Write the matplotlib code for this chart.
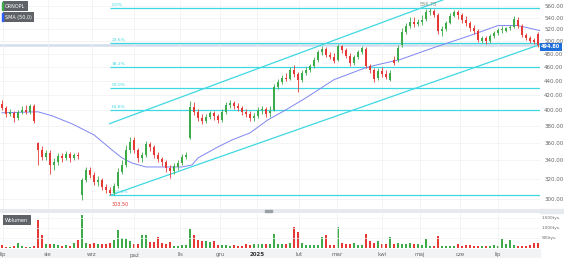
import numpy as np
import matplotlib
matplotlib.use("Agg")
import matplotlib.pyplot as plt
from matplotlib.patches import Rectangle
from matplotlib.ticker import FixedLocator, NullLocator

# two-session candles, July 2024 - July 2025
opens = [408.5, 403.2, 395.4, 396.7, 390.3, 398.0, 400.6, 398.0, 405.8, 359.8,
         351.7, 343.8, 348.3, 335.0, 338.2, 344.9, 342.7, 347.2, 342.7, 346.0,
         303.8, 319.0, 329.5, 324.2, 316.9, 319.0, 311.9, 308.8, 305.8, 312.9,
         327.4, 335.0, 351.7, 363.3, 351.7, 342.7, 346.0, 358.6, 355.2, 346.0,
         341.5, 338.2, 331.7, 328.4, 332.8, 337.1, 343.8, 365.7, 404.5, 398.0,
         390.3, 386.5, 391.6, 396.7, 392.9, 387.8, 398.0, 407.2, 409.8, 405.8,
         403.2, 398.0, 395.4, 390.3, 392.9, 400.6, 401.9, 396.7, 400.6, 431.8,
         438.9, 444.6, 443.1, 456.3, 450.4, 441.7, 451.9, 456.3, 462.3, 471.4,
         483.9, 488.6, 479.1, 476.1, 471.4, 493.3, 487.0, 477.6, 466.9, 476.1,
         483.9, 488.6, 462.3, 456.3, 444.6, 454.8, 450.4, 441.7, 471.4, 471.4,
         494.9, 516.3, 526.4, 533.3, 529.8, 533.3, 538.6, 549.2, 551.0, 543.9,
         517.9, 521.3, 531.6, 542.2, 549.2, 543.9, 536.8, 531.6, 523.0, 517.9,
         501.4, 506.3, 501.4, 509.6, 514.6, 519.6, 517.9, 523.0, 524.7, 536.8,
         526.4, 511.3, 506.3, 503.0, 512.9]
highs = [413.8, 405.8, 401.9, 399.3, 400.6, 405.8, 407.2, 408.5, 408.5, 361.0,
         356.3, 351.7, 351.7, 342.7, 348.3, 348.3, 350.6, 349.4, 348.3, 349.4,
         321.1, 332.8, 332.8, 327.4, 323.2, 321.1, 314.9, 311.9, 315.9, 331.7,
         340.4, 357.5, 366.9, 366.9, 354.0, 349.4, 362.1, 361.0, 357.5, 349.4,
         343.8, 340.4, 335.0, 337.1, 340.4, 347.2, 349.4, 412.5, 411.1, 401.9,
         395.4, 395.4, 399.3, 399.3, 395.4, 401.9, 411.1, 413.8, 412.5, 409.8,
         405.8, 401.9, 399.3, 396.7, 404.5, 405.8, 404.5, 405.8, 436.0, 443.1,
         448.9, 451.9, 460.8, 463.8, 453.3, 456.3, 460.8, 465.3, 476.1, 487.0,
         493.3, 491.7, 483.9, 482.3, 496.5, 494.9, 490.2, 482.3, 479.1, 487.0,
         493.3, 491.7, 465.3, 459.3, 459.3, 460.8, 456.3, 456.3, 477.6, 494.9,
         523.0, 531.6, 540.4, 540.4, 538.6, 543.9, 554.6, 556.78, 554.6, 547.5,
         526.4, 535.1, 547.5, 552.8, 552.8, 547.5, 542.2, 535.1, 528.1, 521.3,
         509.6, 509.6, 512.9, 517.9, 523.0, 526.4, 524.7, 528.1, 542.2, 540.4,
         529.8, 514.6, 509.6, 506.3, 516.3]
lows = [400.6, 391.6, 392.9, 385.3, 387.8, 395.4, 395.4, 395.4, 384.0, 335.0,
        340.4, 340.4, 325.3, 329.5, 335.0, 338.2, 340.4, 338.2, 340.4, 341.5,
        299.0, 316.9, 321.1, 313.9, 312.9, 308.8, 305.8, 303.5, 303.8, 310.9,
        325.3, 332.8, 348.3, 348.3, 338.2, 338.2, 343.8, 350.6, 342.7, 338.2,
        333.9, 327.4, 321.1, 325.3, 329.5, 335.0, 341.5, 364.5, 394.1, 386.5,
        382.8, 384.0, 389.0, 387.8, 384.0, 385.3, 395.4, 403.2, 401.9, 399.3,
        394.1, 391.6, 386.5, 386.5, 390.3, 395.4, 391.6, 391.6, 399.3, 429.0,
        436.0, 440.3, 441.7, 446.0, 424.7, 438.9, 448.9, 453.3, 459.3, 468.4,
        479.1, 476.1, 473.0, 466.9, 469.9, 482.3, 474.5, 462.3, 463.8, 473.0,
        480.7, 459.3, 451.9, 438.9, 441.7, 446.0, 443.1, 440.3, 463.8, 468.4,
        491.7, 512.9, 523.0, 524.7, 526.4, 528.1, 535.1, 543.9, 540.4, 512.9,
        509.6, 517.9, 529.8, 540.4, 538.6, 531.6, 526.4, 517.9, 512.9, 499.8,
        498.1, 496.5, 498.1, 506.3, 511.3, 514.6, 516.3, 519.6, 523.0, 523.0,
        508.0, 503.0, 498.1, 496.5, 491.7]
closes = [403.2, 395.4, 398.0, 390.3, 398.0, 400.6, 398.0, 405.8, 386.5, 351.7,
          343.8, 348.3, 335.0, 338.2, 344.9, 342.7, 347.2, 342.7, 346.0, 344.9,
          319.0, 329.5, 324.2, 316.9, 319.0, 311.9, 308.8, 305.8, 312.9, 327.4,
          335.0, 351.7, 361.0, 351.7, 342.7, 346.0, 358.6, 355.2, 346.0, 341.5,
          338.2, 331.7, 328.4, 333.9, 337.1, 343.8, 346.0, 404.5, 398.0, 390.3,
          386.5, 391.6, 396.7, 392.9, 387.8, 398.0, 407.2, 409.8, 405.8, 403.2,
          398.0, 395.4, 390.3, 392.9, 400.6, 401.9, 395.4, 399.3, 431.8, 438.9,
          444.6, 443.1, 456.3, 450.4, 441.7, 451.9, 456.3, 462.3, 471.4, 483.9,
          488.6, 479.1, 476.1, 469.9, 493.3, 487.0, 477.6, 466.9, 476.1, 483.9,
          490.2, 462.3, 456.3, 443.1, 454.8, 450.4, 446.0, 451.9, 466.9, 490.2,
          516.3, 526.4, 533.3, 529.8, 533.3, 536.8, 549.2, 551.0, 543.9, 517.9,
          521.3, 531.6, 542.2, 549.2, 543.9, 536.8, 531.6, 523.0, 517.9, 503.0,
          506.3, 501.4, 509.6, 514.6, 519.6, 521.3, 523.0, 524.7, 538.6, 526.4,
          511.3, 506.3, 501.4, 499.8, 494.8]
volumes = [130, 60, 50, 80, 250, 80, 60, 70, 90, 1400,
           630, 200, 180, 220, 150, 120, 130, 100, 250, 400,
           1670, 250, 200, 250, 220, 200, 180, 250, 400, 900,
           500, 450, 350, 220, 200, 650, 650, 300, 280, 550,
           250, 200, 280, 120, 120, 150, 170, 970, 670, 400,
           350, 330, 300, 350, 150, 130, 130, 120, 130, 120,
           120, 200, 150, 180, 200, 180, 200, 200, 720, 220,
           200, 180, 250, 1050, 800, 250, 150, 130, 150, 170,
           550, 630, 170, 150, 1050, 250, 180, 200, 250, 130,
           150, 720, 350, 250, 330, 200, 200, 550, 200, 250,
           220, 200, 250, 200, 220, 170, 470, 120, 100, 580,
           120, 100, 80, 100, 200, 120, 170, 150, 80, 100,
           80, 100, 80, 150, 100, 430, 200, 420, 150, 100,
           120, 80, 130, 250, 250]

# SMA(50) at a few candle positions
sma_idx = [0, 9, 12.5, 17.5, 23, 27.5, 30, 32.5, 36, 45, 47.5, 49, 54, 57.5, 62,
           66.5, 71, 76, 83, 91, 94, 99.5, 108, 117, 124, 129, 134.5]
sma_val = [396.7, 398.0, 392.9, 382.8, 369.3, 351.7, 342.7, 337.1, 332.8, 332.8,
           335.0, 342.7, 355.2, 363.3, 371.7, 387.8, 400.6, 416.5, 441.7, 459.3,
           463.8, 471.4, 490.2, 509.6, 526.4, 526.4, 517.9]

fib_low, fib_high = 303.5, 556.78
fib_levels = [0.0, 0.236, 0.382, 0.5, 0.618, 1.0]
fib_start = 27
channel_low = ([27, 134.5], [303.5, 495.0])
channel_high = ([26.9, 112], [383.0, 577.0])
last_price = 494.80

month_pos = [0.25, 11.5, 22.5, 33, 44.5, 54.5, 63.75, 74.25, 83.75, 95, 104.5, 114.5, 124]
month_lbl = ["lip", "sie", "wrz", "paź", "lis", "gru", "2025", "lut", "mar", "kwi", "maj", "cze", "lip"]
price_ticks = list(range(300, 561, 20))
vol_ticks = [500, 1000, 1500]
vol_lbl = ["500tys.", "1.000tys.", "1.500tys."]

GREEN, RED = "#3dab4a", "#e53935"
CYAN = "#3fd8e2"
W, H = 564, 258


def frect(x0, y0, x1, y1):
    return [x0 / W, 1 - y1 / H, (x1 - x0) / W, (y1 - y0) / H]


def main():
    o, h, l, c = map(np.array, (opens, highs, lows, closes))
    idx = np.arange(len(c))
    cols = [GREEN if cc >= oo else RED for oo, cc in zip(o, c)]

    fig = plt.figure(figsize=(W / 100, H / 100), dpi=100)
    fig.patch.set_facecolor("white")
    fig.add_artist(Rectangle((0, 1 - 213 / H), 1, 4 / H, transform=fig.transFigure,
                             color="#e6eaef", zorder=0))
    fig.add_artist(Rectangle((0, 0), 540 / W, 9 / H, transform=fig.transFigure,
                             color="#f1f3f5", zorder=0))
    fig.add_artist(Rectangle((265 / W, 1 - 211.5 / H), 7 / W, 1.2 / H,
                             transform=fig.transFigure, color="#9aa0a6", zorder=5))

    ax = fig.add_axes(frect(0, 0, 540, 209))
    axv = fig.add_axes(frect(0, 213, 540, 248), sharex=ax)

    # price panel
    ax.set_yscale("log")
    ax.set_ylim(290.4, 571.9)
    ax.set_xlim(-0.5, 134.5)
    ax.yaxis.set_major_locator(FixedLocator(price_ticks))
    ax.yaxis.set_minor_locator(NullLocator())
    ax.set_yticklabels([f"{t:.2f}" for t in price_ticks])
    ax.yaxis.tick_right()
    ax.tick_params(axis="y", length=0, pad=3, labelsize=4, labelcolor="#666666")
    ax.xaxis.set_major_locator(FixedLocator(month_pos))
    ax.tick_params(axis="x", length=0, labelbottom=False)
    ax.grid(True, color="#f0f0f0", lw=0.5)
    for s in ax.spines.values():
        s.set_visible(False)

    ax.axhline(last_price, color="#d3deec", lw=1.8, zorder=1)

    rng = fib_high - fib_low
    for lv in fib_levels:
        p = fib_high - lv * rng
        ax.hlines(p, fib_start, 134.5, color=CYAN, lw=0.9, zorder=2)
        ax.text(fib_start + 0.5, p * 1.004, f"{lv * 100:.1f}%", fontsize=3.2,
                color=CYAN, va="bottom", ha="left", zorder=2)
    ax.plot(*channel_low, color=CYAN, lw=0.9, zorder=2)
    ax.plot(*channel_high, color=CYAN, lw=0.9, zorder=2)

    ax.plot(sma_idx, sma_val, color="#7f86f0", lw=0.7, zorder=3)

    ax.vlines(idx, l, h, colors=cols, lw=0.6, zorder=4)
    ax.bar(idx, np.abs(c - o), bottom=np.minimum(o, c), width=0.6,
           color=cols, zorder=4)

    ax.text(29.5, 294.8, "303.50", fontsize=3.5, color=RED, ha="center", va="center")
    ax.text(106.5, 563.0, "556.78", fontsize=3.5, color="#7d8f7d", ha="center", va="center")

    fig.text(541 / W, 1 - 47 / H, f"{last_price:.2f}", fontsize=3.6, color="white",
             ha="left", va="center", fontweight="bold",
             bbox=dict(boxstyle="square,pad=0.25", fc="#1e6fd9", ec="none"))

    # volume panel
    axv.bar(idx, volumes, width=0.65, color=cols)
    axv.set_ylim(0, 1750)
    axv.yaxis.set_major_locator(FixedLocator(vol_ticks))
    axv.set_yticklabels(vol_lbl)
    axv.yaxis.tick_right()
    axv.tick_params(axis="y", length=0, pad=1.5, labelsize=3.0, labelcolor="#666666")
    axv.set_xticks(month_pos)
    axv.set_xticklabels(month_lbl)
    axv.tick_params(axis="x", length=0, pad=3, labelsize=4, labelcolor="#666666")
    for t in axv.get_xticklabels():
        if t.get_text() == "2025":
            t.set_fontweight("bold")
            t.set_color("#333333")
    axv.grid(True, axis="x", color="#f0f0f0", lw=0.5)
    axv.grid(True, axis="y", color="#f3f3f3", lw=0.5)
    for s in axv.spines.values():
        s.set_visible(False)

    # legend boxes
    for y, txt, mark in ((6, "ORNOPL", GREEN), (17, "SMA (50,0)", "#2f5bff"),
                         (220, "Wolumen", None)):
        fig.text(5 / W, 1 - y / H, txt, fontsize=3.5, color="white", va="center",
                 ha="left", bbox=dict(boxstyle="square,pad=0.5", fc="#5f6368", ec="none"))
        if mark:
            fig.add_artist(Rectangle((2 / W, 1 - (y + 4) / H), 1.2 / W, 8 / H,
                                     transform=fig.transFigure, color=mark, zorder=10))

    fig.savefig("out.png", dpi=100, facecolor=fig.get_facecolor())


if __name__ == "__main__":
    main()
